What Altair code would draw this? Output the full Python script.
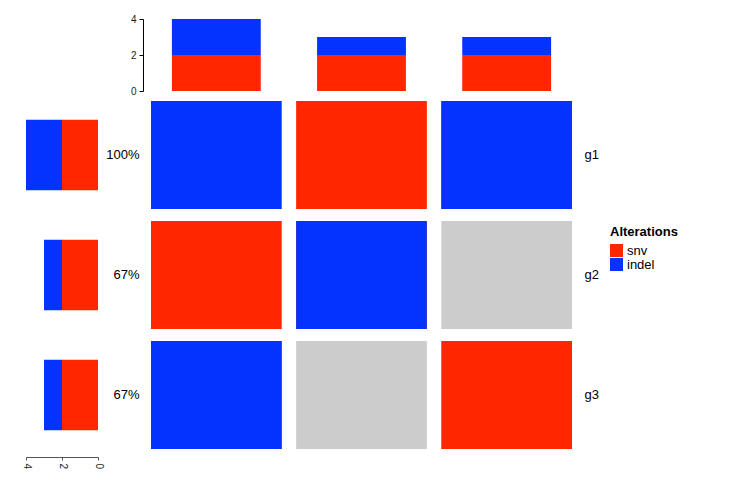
import json
import itertools
import altair as alt
import pandas as pd

# ---------------- data ----------------
samples = ["s1", "s2", "s3"]
genes = ["g1", "g2", "g3"]
pct_labels = ["100%", "67%", "67%"]
alt_types = ["snv", "indel"]
alt_colors = ["#FF2600", "#0433FF"]
background_color = "#CCCCCC"

# alteration events (gene, sample, type); snv drawn first, indel on top
event_gene = ["g1", "g1", "g2", "g2", "g3", "g3", "g1", "g1", "g2", "g3"]
event_sample = ["s2", "s3", "s1", "s2", "s1", "s3", "s1", "s3", "s2", "s1"]
event_type = ["snv", "snv", "snv", "snv", "snv", "snv", "indel", "indel", "indel", "indel"]
count_ticks = [0, 2, 4]
count_max = 4

events = pd.DataFrame({"gene": event_gene, "sample": event_sample, "type": event_type})
cells = pd.DataFrame(list(itertools.product(genes, samples)), columns=["gene", "sample"])

# ---------------- layout (pixel ranges) ----------------
FONT = "Liberation Sans, Arial, Helvetica, sans-serif"
x_sample = alt.Scale(domain=samples, range=[151, 572], paddingInner=0.1, paddingOuter=0)
y_gene = alt.Scale(domain=genes, range=[101, 449], paddingInner=0.1, paddingOuter=0)
y_top = alt.Scale(domain=[0, count_max], range=[91, 19], nice=False, zero=True)
x_left = alt.Scale(domain=[0, count_max], range=[98, 26], nice=False, zero=True)
color_scale = alt.Scale(domain=alt_types, range=alt_colors)

legend = alt.Legend(
    orient="none", legendX=610, legendY=226, title="Alterations",
    titleFontSize=13, titleFontWeight="bold", titleColor="black", titleFont=FONT,
    labelFontSize=13, labelColor="black", labelFont=FONT,
    symbolType="square", symbolSize=169, symbolStrokeWidth=0,
    rowPadding=0, padding=0, titlePadding=5, labelOffset=4,
)
color_enc = alt.Color("type:N", scale=color_scale, legend=legend)
order_expr = "indexof(%s, datum.type)" % json.dumps(alt_types)

pct_expr = " : ".join(
    "datum.value == '%s' ? '%s'" % (g, p) for g, p in zip(genes, pct_labels)
) + " : ''"

# grey background cells + gene names on the right
grey = alt.Chart(cells).mark_rect(color=background_color).encode(
    x=alt.X("sample:N", scale=x_sample, axis=None),
    y=alt.Y("gene:N", scale=y_gene, axis=alt.Axis(
        orient="right", offset=-151, ticks=False, tickSize=0, domain=False,
        labelPadding=0, labelFontSize=13, labelColor="black", labelFont=FONT,
        labelAlign="left", title=None)),
)

# alteration cells
cells_layer = alt.Chart(events).mark_rect().encode(
    x=alt.X("sample:N", scale=x_sample, axis=None),
    y=alt.Y("gene:N", scale=y_gene, axis=None),
    color=color_enc,
)

# top barplot (counts per sample)
top = alt.Chart(events).transform_aggregate(
    n="count()", groupby=["sample", "type"]
).transform_calculate(ord=order_expr).mark_bar(
    width=alt.RelativeBandSize(band=0.68)
).encode(
    x=alt.X("sample:N", scale=x_sample, axis=None),
    y=alt.Y("n:Q", stack="zero", scale=y_top, axis=alt.Axis(
        orient="left", offset=-143, values=count_ticks, tickSize=4, labelPadding=3,
        grid=False, domainColor="black", tickColor="black", labelColor="#222222",
        labelFontSize=10, labelFont=FONT, title=None)),
    color=color_enc,
    order=alt.Order("ord:Q", sort="ascending"),
)

# left barplot (counts per gene) + percentages
left = alt.Chart(events).transform_aggregate(
    n="count()", groupby=["gene", "type"]
).transform_calculate(ord=order_expr).mark_bar(
    height=alt.RelativeBandSize(band=0.655)
).encode(
    y=alt.Y("gene:N", scale=y_gene, axis=alt.Axis(
        orient="left", offset=-139, ticks=False, tickSize=0, domain=False,
        labelPadding=0, labelExpr=pct_expr, labelFontSize=13, labelColor="black",
        labelFont=FONT, title=None)),
    x=alt.X("n:Q", stack="zero", scale=x_left, axis=alt.Axis(
        orient="bottom", offset=-40, values=count_ticks, tickSize=3, labelPadding=3,
        labelAngle=90, grid=False, domainColor="#555555", tickColor="#555555",
        labelColor="#222222", labelFontSize=10, labelFont=FONT, title=None)),
    color=color_enc,
    order=alt.Order("ord:Q", sort="ascending"),
)

chart = alt.layer(grey, cells_layer, top, left).resolve_scale(
    x="independent", y="independent", color="shared"
).properties(
    width=735, height=497, padding=0,
    autosize=alt.AutoSizeParams(type="none"),
    background="white",
).configure_view(stroke=None)

chart.save("out.html", embed_options={"renderer": "svg", "actions": False})
